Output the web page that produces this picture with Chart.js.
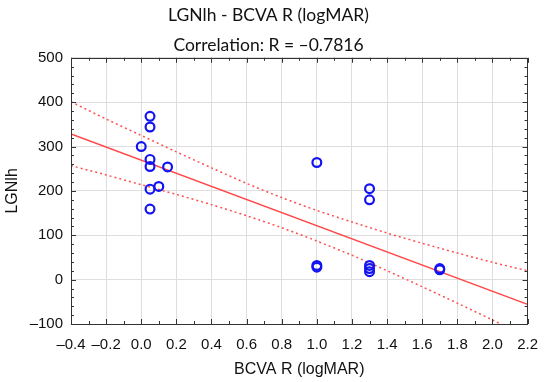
<!DOCTYPE html>
<html>
<head>
<meta charset="utf-8">
<script src="https://cdn.jsdelivr.net/npm/chart.js@4/dist/chart.umd.min.js"></script>
<style>
  body { margin: 0; background: #fff; }
</style>
</head>
<body>
<canvas id="corrChart" width="550" height="382"></canvas>
<script>
// values
const bcvaValues = [0.0, 0.05, 0.05, 0.05, 0.05, 0.05, 0.05, 0.1, 0.15, 1.0, 1.0, 1.0, 1.3, 1.3, 1.3, 1.3, 1.3, 1.7, 1.7];
const lgnValues  = [300, 368, 344, 271, 255, 204, 159, 210, 254, 264, 32, 28, 205, 180, 32, 25, 18, 25, 22];

// regression line end points
const fitX = [-0.4, 2.2];
const fitY = [328.6, -55.7];

// 95% confidence band
const bandX     = [-0.4, -0.2, 0.0, 0.2, 0.4, 0.6, 0.8, 1.0, 1.2, 1.4, 1.6, 1.8, 2.0, 2.2];
const upperBand = [401, 362, 325, 288, 252, 217, 185, 156, 130, 105, 82, 60, 39, 20];
const lowerBand = [257, 236, 214, 192, 169, 144, 117, 87, 55, 20, -16, -53, -91, -130];

const xTicks = [-0.4, 2.2, 0.2];   // min, max, step
const yTicks = [-100, 500, 100];

const toPts = (xs, ys) => xs.map((x, i) => ({ x: x, y: ys[i] }));
const dash = s => s.replace('-', '\u2013');

// small inward tick marks on all four sides, like the original plot frame
const frameTicks = {
    id: 'frameTicks',
    afterDatasetsDraw(chart) {
        const { ctx, chartArea: a, scales } = chart;
        ctx.save();
        ctx.strokeStyle = '#333';
        ctx.lineWidth = 1;
        ctx.beginPath();
        for (let v = yTicks[0]; v <= yTicks[1] + 0.001; v += 20) {
            const y = Math.round(scales.y.getPixelForValue(v)) + 0.5;
            const len = (v % 100 === 0) ? 5 : 3;
            ctx.moveTo(a.left, y); ctx.lineTo(a.left + len, y);
            ctx.moveTo(a.right, y); ctx.lineTo(a.right - len, y);
        }
        for (let i = 0; i <= 26; i++) {
            const v = xTicks[0] + i * 0.1;
            const x = Math.round(scales.x.getPixelForValue(v)) + 0.5;
            const len = (i % 2 === 0) ? 5 : 3;
            ctx.moveTo(x, a.bottom); ctx.lineTo(x, a.bottom - len);
            ctx.moveTo(x, a.top); ctx.lineTo(x, a.top + len);
        }
        ctx.stroke();
        ctx.strokeRect(Math.round(a.left) + 0.5, Math.round(a.top) + 0.5,
                       Math.round(a.right - a.left) - 1, Math.round(a.bottom - a.top));
        ctx.restore();
    }
};

const ctx = document.getElementById('corrChart').getContext('2d');

const corrChart = new Chart(ctx, {
    type: 'scatter',
    data: {
        datasets: [{
            label: 'LGNlh',
            data: toPts(bcvaValues, lgnValues),
            pointRadius: 4.4,
            pointBorderWidth: 2.2,
            pointBorderColor: '#1414f0',
            pointBackgroundColor: 'rgba(0,0,0,0)',
            order: 0,
        }, {
            label: 'fit',
            data: toPts(fitX, fitY),
            showLine: true,
            borderColor: '#ff4545',
            borderWidth: 1.5,
            pointRadius: 0,
            order: 1,
        }, {
            label: 'upper',
            data: toPts(bandX, upperBand),
            showLine: true,
            borderColor: '#ff5050',
            borderWidth: 1.5,
            borderDash: [2, 3],
            tension: 0.3,
            pointRadius: 0,
            order: 2,
        }, {
            label: 'lower',
            data: toPts(bandX, lowerBand),
            showLine: true,
            borderColor: '#ff5050',
            borderWidth: 1.5,
            borderDash: [2, 3],
            tension: 0.3,
            pointRadius: 0,
            order: 2,
        }]
    },
    options: {
        responsive: false,
        animation: false,
        layout: { padding: { left: 0, right: 13, top: 0, bottom: 0 } },
        scales: {
            x: {
                min: xTicks[0],
                max: xTicks[1],
                afterFit(scale) { scale.height = 58; },
                ticks: {
                    stepSize: xTicks[2],
                    padding: 12,
                    color: '#111',
                    font: { family: 'Liberation Sans', size: 15 },
                    maxRotation: 0,
                    autoSkip: false,
                    callback: v => dash((Math.abs(v) < 1e-9 ? 0 : v).toFixed(1)),
                },
                grid: { color: '#dedede', drawTicks: false },
                border: { display: false },
                title: {
                    display: true,
                    text: 'BCVA R (logMAR)',
                    color: '#111',
                    font: { family: 'Liberation Sans', size: 16 },
                    padding: { top: 0, bottom: 3 },
                },
            },
            y: {
                min: yTicks[0],
                max: yTicks[1],
                afterFit(scale) { scale.width = 71; },
                ticks: {
                    stepSize: yTicks[2],
                    padding: 8,
                    color: '#111',
                    font: { family: 'Liberation Sans', size: 15 },
                    callback: v => dash(String(v)),
                },
                grid: { color: '#dedede', drawTicks: false },
                border: { display: false },
                title: {
                    display: true,
                    text: 'LGNlh',
                    color: '#111',
                    font: { family: 'Liberation Sans', size: 16 },
                    padding: { top: 3, bottom: 0 },
                },
            },
        },
        plugins: {
            legend: { display: false },
            tooltip: { enabled: false },
            title: {
                display: true,
                text: ['LGNlh - BCVA R (logMAR)', 'Correlation: R = \u20130.7816'],
                color: '#111',
                font: { family: 'Lato', size: 17.5, weight: 'normal', lineHeight: 1.68 },
                padding: { top: 1, bottom: -2 },
            },
        },
    },
    plugins: [frameTicks]
});
</script>
</body>
</html>
